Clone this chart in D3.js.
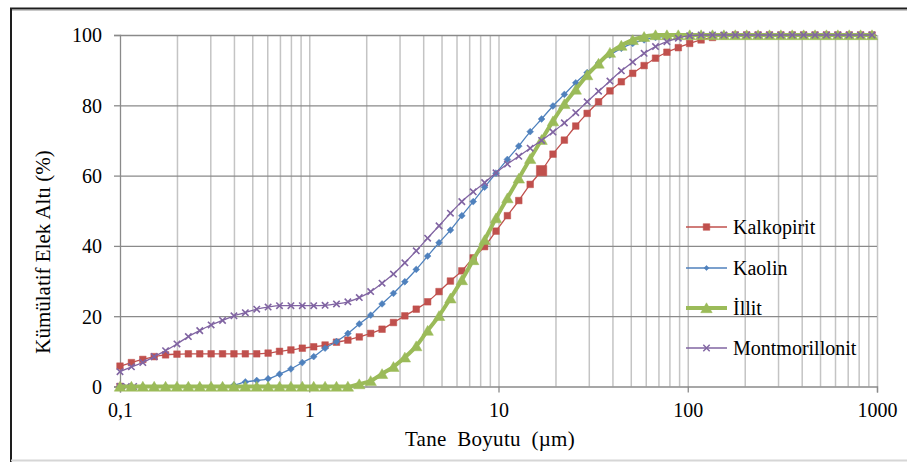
<!DOCTYPE html>
<html>
<head>
<meta charset="utf-8">
<script src="https://cdn.jsdelivr.net/npm/d3@7/dist/d3.min.js"></script>
<style>
  html, body { margin: 0; padding: 0; background: #ffffff; }
  svg { display: block; }
  text { font-family: "Liberation Serif", "Times New Roman", "DejaVu Serif", serif; fill: #000; }
</style>
</head>
<body>
<svg id="chart" width="907" height="462"></svg>
<script>
// Particle size classes (µm), geometric steps of 2^(1/5)
const sizes = [
  0.1, 0.1149, 0.132, 0.1516, 0.1741, 0.2, 0.2297, 0.2639, 0.3031, 0.3482,
  0.4, 0.4595, 0.5278, 0.6063, 0.6964, 0.8, 0.919, 1.0556, 1.2126, 1.3929,
  1.6, 1.8379, 2.1112, 2.4251, 2.7858, 3.2, 3.6758, 4.2224, 4.8503, 5.5715,
  6.4, 7.3517, 8.4449, 9.7006, 11.143, 12.8, 14.703, 16.89, 19.401, 22.286,
  25.6, 29.407, 33.78, 38.802, 44.572, 51.2, 58.813, 67.559, 77.605, 89.144,
  102.4, 117.63, 135.12, 155.21, 178.29, 204.8, 235.25, 270.24, 310.42, 356.58,
  409.6, 470.5, 540.5, 620.9, 713.2, 819.2, 941.1
];

// Cumulative passing (%) for each material
const kalkopirit = [
  5.8, 6.8, 7.7, 8.5, 9.0, 9.2, 9.3, 9.3, 9.3, 9.3,
  9.3, 9.3, 9.3, 9.5, 10.0, 10.4, 10.9, 11.3, 11.8, 12.6,
  13.2, 14.1, 15.1, 16.3, 18.2, 20.1, 22.0, 24.1, 27.0, 30.0,
  32.9, 36.6, 39.8, 44.2, 48.6, 52.9, 57.5, 61.4, 66.1, 70.1,
  74.1, 77.7, 81.0, 84.1, 86.7, 89.1, 91.3, 93.4, 95.1, 96.4,
  97.6, 98.6, 99.3, 99.8, 100, 100, 100, 100, 100, 100,
  100, 100, 100, 100, 100, 100, 100
];
const kaolin = [
  0, 0, 0, 0, 0, 0, 0, 0, 0, 0,
  0.4, 1.3, 1.7, 2.2, 3.5, 5.0, 6.8, 8.5, 10.9, 12.8,
  15.1, 17.8, 20.3, 23.5, 26.5, 29.8, 33.3, 37.1, 40.9, 44.5,
  48.6, 52.6, 56.7, 60.7, 64.6, 68.4, 72.5, 76.1, 79.8, 83.1,
  86.4, 89.3, 92.0, 94.3, 96.2, 97.6, 98.6, 99.3, 99.7, 100,
  100, 100, 100, 100, 100, 100, 100, 100, 100, 100,
  100, 100, 100, 100, 100, 100, 100
];
const illit = [
  0, 0, 0, 0, 0, 0, 0, 0, 0, 0,
  0, 0, 0, 0, 0, 0, 0, 0, 0, 0,
  0, 0.7, 1.6, 3.6, 5.6, 8.3, 11.5, 15.9, 20.1, 25.1,
  30.3, 36.0, 41.7, 47.9, 53.6, 59.2, 64.8, 70.2, 75.5, 80.4,
  84.5, 88.6, 91.9, 95.0, 97.0, 98.6, 99.5, 100, 100, 100,
  100, 100, 100, 100, 100, 100, 100, 100, 100, 100,
  100, 100, 100, 100, 100, 100, 100
];
const montmorillonit = [
  4.2, 5.6, 6.8, 8.5, 10.2, 12.1, 14.2, 15.9, 17.5, 18.8,
  20.1, 21.0, 22.0, 22.6, 23.0, 23.0, 23.0, 23.0, 23.1, 23.5,
  24.1, 25.3, 27.0, 29.4, 32.0, 35.2, 38.6, 42.2, 45.7, 49.3,
  52.6, 55.4, 58.0, 60.8, 63.3, 65.5, 67.8, 70.0, 72.4, 75.0,
  77.9, 81.0, 84.0, 86.9, 89.8, 92.3, 94.8, 96.7, 98.1, 99.1,
  99.8, 100, 100, 100, 100, 100, 100, 100, 100, 100,
  100, 100, 100, 100, 100, 100, 100
];

// Short zero runs recorded at the finest sizes
const kalkopiritZeroSizes = [0.1];
const montmorillonitZeroSizes = [0.1, 0.108, 0.118];

// Highlighted measurement on the Kalkopirit curve (index into sizes)
const kalkopiritHighlight = 37;

const seriesNames = ["Kalkopirit", "Kaolin", "İllit", "Montmorillonit"];
const yTicks = [0, 20, 40, 60, 80, 100];
const xTicks = [0.1, 1, 10, 100, 1000];
const xTickLabels = ["0,1", "1", "10", "100", "1000"];
const xTitle = "Tane Boyutu (µm)";
const yTitle = "Kümülatif Elek Altı (%)";

const svg = d3.select("#chart");
const plotLeft = 120, plotRight = 877, plotTop = 35, plotBottom = 386.5;

const x = d3.scaleLog().domain([0.1, 1000]).range([plotLeft, plotRight]);
const y = d3.scaleLinear().domain([0, 100]).range([plotBottom, plotTop]);

// Outer frame
svg.append("line").attr("x1", 10).attr("x2", 907).attr("y1", 8.5).attr("y2", 8.5)
  .attr("stroke", "#1e1e1e").attr("stroke-width", 2);
svg.append("line").attr("x1", 11).attr("x2", 907).attr("y1", 10.5).attr("y2", 10.5)
  .attr("stroke", "#c8c8c8").attr("stroke-width", 1);
svg.append("line").attr("x1", 11).attr("x2", 11).attr("y1", 8).attr("y2", 462)
  .attr("stroke", "#1e1e1e").attr("stroke-width", 2);
svg.append("line").attr("x1", 11).attr("x2", 907).attr("y1", 460.5).attr("y2", 460.5)
  .attr("stroke", "#d6d6d6").attr("stroke-width", 2);

// Vertical grid: every 1..9 step within each decade
const gridVals = [];
[0.1, 1, 10, 100].forEach(d => { for (let k = 1; k <= 9; k++) gridVals.push(d * k); });
gridVals.push(1000);
const gx = svg.append("g").attr("transform", `translate(0,${plotBottom})`)
  .call(d3.axisBottom(x).tickValues(gridVals.filter(v => v > 0.1001))
    .tickSize(-(plotBottom - plotTop)).tickFormat(""));
gx.select(".domain").remove();
gx.selectAll(".tick line").attr("stroke", "#c4c4c4").attr("stroke-width", 1.5);

// Horizontal grid
const gy = svg.append("g").attr("transform", `translate(${plotLeft},0)`)
  .call(d3.axisLeft(y).tickValues(yTicks.filter(v => v > 0))
    .tickSize(-(plotRight - plotLeft)).tickFormat(""));
gy.select(".domain").remove();
gy.selectAll(".tick line").attr("stroke", "#8a8a8a").attr("stroke-width", 1.3);

// Y axis
const yAxis = svg.append("g").attr("transform", `translate(${plotLeft},0)`)
  .call(d3.axisLeft(y).tickValues(yTicks).tickSize(6).tickPadding(12).tickFormat(d3.format("d")));
yAxis.select(".domain").attr("stroke", "#8a8a8a").attr("stroke-width", 1.3);
yAxis.selectAll(".tick line").attr("stroke", "#8a8a8a").attr("stroke-width", 1.3);
yAxis.selectAll(".tick text").attr("font-size", 20).attr("dy", "0.34em")
  .style("font-family", '"Liberation Serif", "Times New Roman", serif').attr("fill", "#000");

// X axis
const xAxis = svg.append("g").attr("transform", `translate(0,${plotBottom})`)
  .call(d3.axisBottom(x).tickValues(xTicks).tickSize(6).tickPadding(10)
    .tickFormat((d, i) => xTickLabels[i]));
xAxis.select(".domain").attr("stroke", "#8a8a8a").attr("stroke-width", 1.3);
xAxis.selectAll(".tick line").attr("stroke", "#8a8a8a").attr("stroke-width", 1.3);
xAxis.selectAll(".tick text").attr("font-size", 20).attr("dy", "0.71em")
  .style("font-family", '"Liberation Serif", "Times New Roman", serif').attr("fill", "#000");

// Axis titles
svg.append("text").attr("x", (403 + 577) / 2).attr("y", 446)
  .attr("text-anchor", "middle").attr("font-size", 21)
  .style("word-spacing", "5px").style("letter-spacing", "0.3px")
  .text(xTitle);
svg.append("text").attr("transform", "translate(50,252) rotate(-90)")
  .attr("text-anchor", "middle").attr("font-size", 21)
  .text(yTitle);

// Marker shapes
const shapes = {
  square: s => `M${-s},${-s}H${s}V${s}H${-s}Z`,
  diamond: s => `M0,${-s}L${s},0L0,${s}L${-s},0Z`,
  triangle: s => `M0,${-s}L${s * 1.1},${s * 0.9}L${-s * 1.1},${s * 0.9}Z`,
  cross: s => `M${-s},${-s}L${s},${s}M${-s},${s}L${s},${-s}`
};

const series = [
  { name: seriesNames[0], values: kalkopirit, color: "#C0504D", width: 1.3, shape: "square", size: 3.3, filled: true },
  { name: seriesNames[1], values: kaolin, color: "#4F81BD", width: 1.3, shape: "diamond", size: 3.4, filled: true },
  { name: seriesNames[2], values: illit, color: "#9BBB59", width: 4, shape: "triangle", size: 5.2, filled: true },
  { name: seriesNames[3], values: montmorillonit, color: "#8064A2", width: 1.3, shape: "cross", size: 3.2, filled: false }
];

const line = d3.line().x(d => x(d[0])).y(d => y(d[1])).curve(d3.curveMonotoneX);

function drawMarkers(g, pts, s, sizeFn) {
  g.selectAll(null).data(pts).join("path")
    .attr("transform", d => `translate(${x(d[0])},${y(d[1])})`)
    .attr("d", (d, i) => shapes[s.shape](sizeFn ? sizeFn(i) : s.size))
    .attr("fill", s.filled ? s.color : "none")
    .attr("stroke", s.color)
    .attr("stroke-width", s.filled ? 0.5 : 1.6);
}

// Zero runs at the fine end
const zeroGroups = [
  { s: series[0], xs: kalkopiritZeroSizes },
  { s: series[3], xs: montmorillonitZeroSizes }
];
zeroGroups.forEach(zg => {
  const pts = zg.xs.map(v => [v, 0]);
  const g = svg.append("g");
  g.append("path").datum(pts).attr("d", line).attr("fill", "none")
    .attr("stroke", zg.s.color).attr("stroke-width", zg.s.width);
  drawMarkers(g, pts, zg.s);
});

series.forEach(s => {
  const pts = sizes.map((v, i) => [v, s.values[i]]);
  const g = svg.append("g");
  g.append("path").datum(pts).attr("d", line).attr("fill", "none")
    .attr("stroke", s.color).attr("stroke-width", s.width).attr("stroke-linejoin", "round");
  const sizeFn = s.name === seriesNames[0] ? (i => i === kalkopiritHighlight ? 5.2 : s.size) : null;
  drawMarkers(g, pts, s, sizeFn);
});

// Legend
const legendRows = [227, 268, 308, 348];
const legend = svg.append("g");
series.forEach((s, i) => {
  const ly = legendRows[i];
  legend.append("line").attr("x1", 686).attr("x2", 727).attr("y1", ly).attr("y2", ly)
    .attr("stroke", s.color).attr("stroke-width", s.width);
  legend.append("path").attr("transform", `translate(706.5,${ly})`)
    .attr("d", shapes[s.shape](s.shape === "diamond" ? 2.6 : s.size))
    .attr("fill", s.filled ? s.color : "none").attr("stroke", s.color)
    .attr("stroke-width", s.filled ? 0.5 : 1.4);
  legend.append("text").attr("x", 733).attr("y", ly).attr("dy", "0.33em")
    .attr("font-size", 20).text(s.name);
});
</script>
</body>
</html>
